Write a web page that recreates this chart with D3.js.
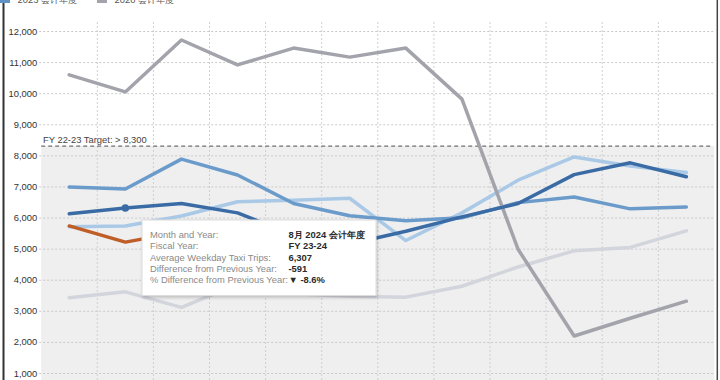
<!DOCTYPE html>
<html>
  <head>
    <meta charset="utf-8">
    <script src="https://d3js.org/d3.v7.min.js"></script>
    <style>
      body { margin: 0px; background: #fff; }
      svg { display: block; font-family: "Liberation Sans", Arial, sans-serif; }
      .domain { display: none; }
      .tick line { stroke: #c9c9c9; stroke-dasharray: 2,2; }
      .tick text { fill: #333; font-size: 9.4px; }
      .tip-label { fill: #8a8a8a; font-size: 9.4px; }
      .tip-value { fill: #2a2a2a; font-size: 9.4px; font-weight: bold; }
    </style>
  </head>
  <body>
    <svg width="720" height="380"></svg>
    <script>
      // fiscal year runs July -> June
      const months = ['7月', '8月', '9月', '10月', '11月', '12月', '1月', '2月', '3月', '4月', '5月', '6月'];
      const fy2020 = [10590, 10040, 11710, 10910, 11450, 11160, 11450, 9810, 4980, 2190, 2760, 3310];
      const fy2021 = [3420, 3610, 3110, 3850, 3550, 3470, 3440, 3790, 4410, 4930, 5040, 5570];
      const fy2022 = [5700, 5730, 6050, 6510, 6560, 6620, 5260, 6150, 7200, 7950, 7660, 7450];
      const fy2023 = [6980, 6920, 7880, 7370, 6450, 6060, 5900, 5990, 6480, 6660, 6280, 6340];
      const fy2024 = [6120, 6307, 6450, 6150, 5450, 5150, 5560, 6020, 6450, 7380, 7760, 7310];
      const fy2025 = [5730, 5210, 5540];
      const yTicks = [1000, 2000, 3000, 4000, 5000, 6000, 7000, 8000, 9000, 10000, 11000, 12000];
      const target = 8300;
      const targetLabel = 'FY 22-23 Target: > 8,300';
      const legendItems = [['2023 会计年度', '#5f93c8'], ['2020 会计年度', '#a3a3ab']];
      const tipLabels = ['Month and Year:', 'Fiscal Year:', 'Average Weekday Taxi Trips:', 'Difference from Previous Year:', '% Difference from Previous Year:'];
      const tipValues = ['8月 2024 会计年度', 'FY 23-24', '6,307', '-591', '▼ -8.6%'];

      const series = [
        { values: fy2021, color: '#d3d5dc', width: 3.5 },
        { values: fy2022, color: '#a9c9e6', width: 3.5 },
        { values: fy2023, color: '#6b9bca', width: 3.5 },
        { values: fy2020, color: '#a3a3ab', width: 3.5 },
        { values: fy2024, color: '#3a6ba5', width: 3.5 },
        { values: fy2025, color: '#c05e27', width: 3.5 }
      ];

      const svg = d3.select('svg');
      const plotLeft = 41.2, plotRight = 714.4, plotTop = 22, plotBottom = 380;

      const xScale = d3.scaleBand().domain(months).range([plotLeft, plotRight]);
      const xMid = m => xScale(m) + xScale.bandwidth() / 2;
      const yScale = d3.scaleLinear().domain([1000, 12000]).range([373, 31]);

      // shaded area below the target
      svg.append('rect')
        .attr('x', plotLeft).attr('y', yScale(target))
        .attr('width', plotRight - plotLeft).attr('height', plotBottom - yScale(target))
        .attr('fill', '#efefef');

      // vertical grid
      svg.append('g').selectAll('line').data(months.slice(1))
        .enter().append('line')
          .attr('x1', d => xScale(d)).attr('x2', d => xScale(d))
          .attr('y1', plotTop).attr('y2', plotBottom)
          .attr('stroke', '#cfcfcf')
          .attr('stroke-dasharray', '2,2');

      const yAxis = d3.axisLeft(yScale)
        .tickValues(yTicks)
        .tickFormat(d3.format(','))
        .tickSizeInner(-(plotRight - plotLeft + 2))
        .tickSizeOuter(0)
        .tickPadding(4);
      svg.append('g')
        .attr('transform', `translate(${plotLeft - 2},0)`)
        .call(yAxis)
        .selectAll('.tick text').attr('x', -2);

      // target line
      svg.append('line')
        .attr('x1', plotLeft).attr('x2', plotRight - 1.5)
        .attr('y1', yScale(target)).attr('y2', yScale(target))
        .attr('stroke', '#707070')
        .attr('stroke-width', 1.2)
        .attr('stroke-dasharray', '4,3');
      svg.append('text')
        .attr('x', 43).attr('y', yScale(target) - 3.5)
        .attr('fill', '#444')
        .style('font-size', '9.4px')
        .text(targetLabel);

      const line = d3.line()
        .x((d, i) => xMid(months[i]))
        .y(d => yScale(d));

      svg.append('g').selectAll('path').data(series)
        .enter().append('path')
          .attr('d', d => line(d.values))
          .attr('fill', 'none')
          .attr('stroke', d => d.color)
          .attr('stroke-width', d => d.width)
          .attr('stroke-linejoin', 'round')
          .attr('stroke-linecap', 'round');

      // hovered point
      svg.append('circle')
        .attr('cx', xMid(months[1])).attr('cy', yScale(fy2024[1]))
        .attr('r', 3.8)
        .attr('fill', '#3a6ba5');

      // tooltip
      const defs = svg.append('defs');
      const f = defs.append('filter').attr('id', 'shadow')
        .attr('x', '-10%').attr('y', '-10%').attr('width', '125%').attr('height', '140%');
      f.append('feDropShadow')
        .attr('dx', 1).attr('dy', 2).attr('stdDeviation', 1.5)
        .attr('flood-color', '#000').attr('flood-opacity', 0.18);
      const tip = svg.append('g');
      tip.append('rect')
        .attr('x', 142).attr('y', 220)
        .attr('width', 234).attr('height', 75.5)
        .attr('fill', '#fff')
        .attr('stroke', '#dcdcdc')
        .attr('filter', 'url(#shadow)');
      tip.selectAll('.tip-label').data(tipLabels)
        .enter().append('text')
          .attr('class', 'tip-label')
          .attr('x', 150)
          .attr('y', (d, i) => 237.8 + i * 11.4)
          .text(d => d);
      tip.selectAll('.tip-value').data(tipValues)
        .enter().append('text')
          .attr('class', 'tip-value')
          .attr('x', 288.5)
          .attr('y', (d, i) => 237.8 + i * 11.4)
          .text(d => d);

      // legend (top row cut off)
      const lg = svg.append('g');
      legendItems.forEach((d, i) => {
        const x0 = i === 0 ? 0 : 97;
        lg.append('rect')
          .attr('x', x0).attr('y', -6)
          .attr('width', 10).attr('height', 9)
          .attr('fill', d[1]);
        lg.append('text')
          .attr('x', x0 + 17.5).attr('y', 3.2)
          .attr('fill', '#555')
          .style('font-size', '9.4px')
          .text(d[0]);
      });

      // frame
      svg.append('line')
        .attr('x1', 3.5).attr('x2', 3.5).attr('y1', 3).attr('y2', 380)
        .attr('stroke', '#333').attr('stroke-width', 2);
      svg.append('line')
        .attr('x1', 717.3).attr('x2', 717.3).attr('y1', 0).attr('y2', 380)
        .attr('stroke', '#444').attr('stroke-width', 1.5);
    </script>
  </body>
</html>
